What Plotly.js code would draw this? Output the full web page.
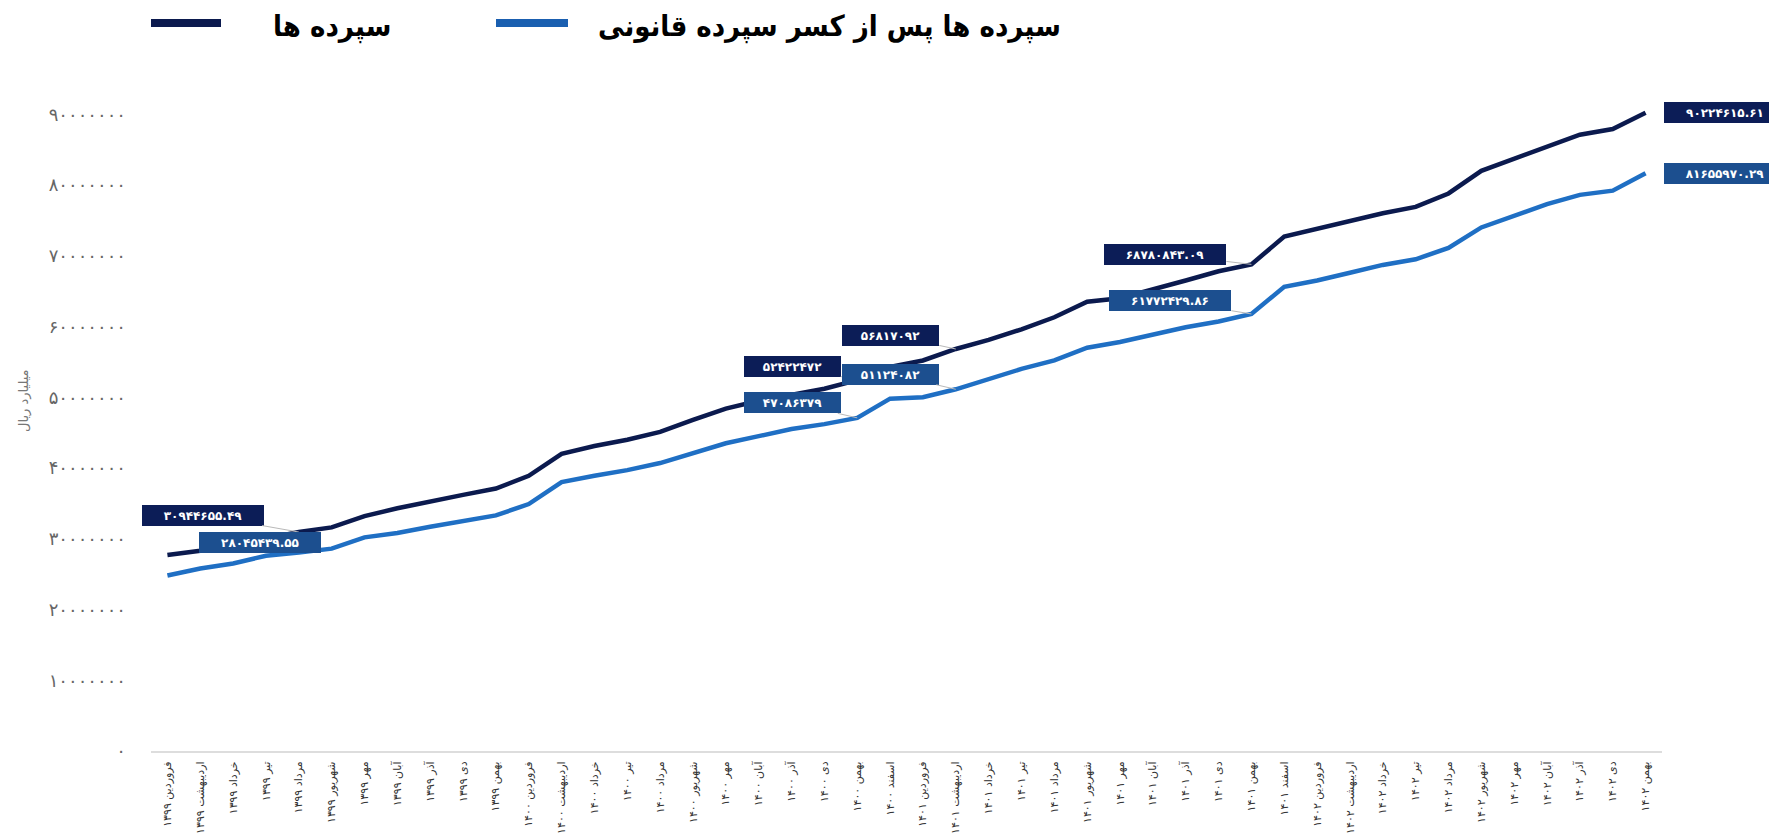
<!DOCTYPE html>
<html>
<head>
<meta charset="utf-8">
<script src="https://cdn.plot.ly/plotly-3.0.1.min.js"></script>
<style>
  html, body { margin: 0; padding: 0; background: #ffffff; }
  #chart { width: 1769px; height: 839px; }
</style>
</head>
<body>
<div id="chart"></div>
<script>
// ---------- data ----------
const months = [
  "فروردین ۱۳۹۹", "اردیبهشت ۱۳۹۹", "خرداد ۱۳۹۹", "تیر ۱۳۹۹", "مرداد ۱۳۹۹", "شهریور ۱۳۹۹",
  "مهر ۱۳۹۹", "آبان ۱۳۹۹", "آذر ۱۳۹۹", "دی ۱۳۹۹", "بهمن ۱۳۹۹",
  "فروردین ۱۴۰۰", "اردیبهشت ۱۴۰۰", "خرداد ۱۴۰۰", "تیر ۱۴۰۰", "مرداد ۱۴۰۰", "شهریور ۱۴۰۰",
  "مهر ۱۴۰۰", "آبان ۱۴۰۰", "آذر ۱۴۰۰", "دی ۱۴۰۰", "بهمن ۱۴۰۰", "اسفند ۱۴۰۰",
  "فروردین ۱۴۰۱", "اردیبهشت ۱۴۰۱", "خرداد ۱۴۰۱", "تیر ۱۴۰۱", "مرداد ۱۴۰۱", "شهریور ۱۴۰۱",
  "مهر ۱۴۰۱", "آبان ۱۴۰۱", "آذر ۱۴۰۱", "دی ۱۴۰۱", "بهمن ۱۴۰۱", "اسفند ۱۴۰۱",
  "فروردین ۱۴۰۲", "اردیبهشت ۱۴۰۲", "خرداد ۱۴۰۲", "تیر ۱۴۰۲", "مرداد ۱۴۰۲", "شهریور ۱۴۰۲",
  "مهر ۱۴۰۲", "آبان ۱۴۰۲", "آذر ۱۴۰۲", "دی ۱۴۰۲", "بهمن ۱۴۰۲"
];

const deposits = [
  27700000, 28300000, 29100000, 30000000, 30944655.49, 31600000,
  33200000, 34300000, 35300000, 36200000, 37100000,
  38900000, 42000000, 43100000, 44000000, 45100000, 46800000,
  48400000, 49500000, 50300000, 51200000, 52422472, 54300000,
  55200000, 56817092, 58100000, 59600000, 61300000, 63500000,
  64000000, 65200000, 66500000, 67800000, 68780843.09, 72700000,
  73800000, 74800000, 76000000, 76900000, 78800000, 82000000,
  83700000, 85400000, 87100000, 87900000, 90224615.61
];

const depositsNet = [
  24800000, 25800000, 26500000, 27600000, 28045439.55, 28600000,
  30200000, 30800000, 31700000, 32500000, 33300000,
  34900000, 38000000, 38900000, 39700000, 40700000, 42100000,
  43500000, 44500000, 45500000, 46200000, 47086379, 49800000,
  50000000, 51124082, 52500000, 54000000, 55200000, 57000000,
  57800000, 58900000, 59900000, 60700000, 61772429.86, 65600000,
  66500000, 67600000, 68700000, 69500000, 71100000, 74000000,
  75700000, 77300000, 78600000, 79200000, 81655970.29
];

const seriesNames = ["سپرده ها", "سپرده ها پس از کسر سپرده قانونی"];
const yTickValues = [0, 10000000, 20000000, 30000000, 40000000, 50000000, 60000000, 70000000, 80000000, 90000000];
const yTitle = "میلیارد ریال";

// labelled points: month index, and label text as printed on the chart
const depLabelIdx = [4, 21, 24, 33, 45];
const depLabelText = ["۳۰۹۴۴۶۵۵.۴۹", "۵۲۴۲۲۴۷۲", "۵۶۸۱۷۰۹۲", "۶۸۷۸۰۸۴۳.۰۹", "۹۰۲۲۴۶۱۵.۶۱"];
const netLabelIdx = [4, 21, 24, 33, 45];
const netLabelText = ["۲۸۰۴۵۴۳۹.۵۵", "۴۷۰۸۶۳۷۹", "۵۱۱۲۴۰۸۲", "۶۱۷۷۲۴۲۹.۸۶", "۸۱۶۵۵۹۷۰.۲۹"];

// ---------- styling ----------
const DARK = "#0b1a4e";
const LIGHT = "#1f6fc4";
const DARK_BOX = "#0c1d57";
const LIGHT_BOX = "#1c4f8f";

const toFa = s => String(s).replace(/\d/g, d => "۰۱۲۳۴۵۶۷۸۹"[+d]);

const traces = [
  { x: months, y: deposits, name: seriesNames[0], type: "scatter", mode: "lines",
    line: { color: DARK, width: 4.5 }, hoverinfo: "skip" },
  { x: months, y: depositsNet, name: seriesNames[1], type: "scatter", mode: "lines",
    line: { color: LIGHT, width: 4.5 }, hoverinfo: "skip" }
];

// per-label box offsets (pixels from the point to the box centre)
const depOffsets = [[-96, -17], [-65, -14], [-65, -14], [-86, -10], null];
const netOffsets = [[-39, -10], [-65, -15], [-65, -15], [-81, -13], null];

function labelAnn(series, idx, text, offs, bg) {
  const long = text.indexOf(".") >= 0;
  const base = {
    xref: "x", yref: "y", x: months[idx], y: series[idx], text: text,
    font: { family: "DejaVu Sans", size: 12, color: "#ffffff", weight: 700 },
    bgcolor: bg, borderpad: 3, borderwidth: 0,
    width: long ? 116 : 91, height: 15, align: "center", valign: "middle"
  };
  if (offs) {
    return Object.assign(base, {
      showarrow: true, arrowhead: 0, arrowwidth: 1, arrowcolor: "#b9b9b9",
      ax: offs[0], ay: offs[1], standoff: 0
    });
  }
  return Object.assign(base, { showarrow: false, xanchor: "left", yanchor: "middle", xshift: 18 });
}

const annotations = [];
depLabelIdx.forEach((idx, k) => annotations.push(labelAnn(deposits, idx, depLabelText[k], depOffsets[k], DARK_BOX)));
netLabelIdx.forEach((idx, k) => annotations.push(labelAnn(depositsNet, idx, netLabelText[k], netOffsets[k], LIGHT_BOX)));

// legend (drawn at the top like the original)
const PL = 151, PW = 1511, PB = 751, PH = 658;
const px = v => (v - PL) / PW;
const py = v => (PB - v) / PH;

annotations.push({
  xref: "paper", yref: "paper", x: px(332), y: py(27), showarrow: false,
  text: seriesNames[0], xanchor: "center", yanchor: "middle",
  font: { family: "DejaVu Sans Condensed", size: 29, color: "#000000", weight: 700 }
});
annotations.push({
  xref: "paper", yref: "paper", x: px(829), y: py(27), showarrow: false,
  text: seriesNames[1], xanchor: "center", yanchor: "middle",
  font: { family: "DejaVu Sans Condensed", size: 29, color: "#000000", weight: 700 }
});
annotations.push({
  xref: "paper", yref: "paper", x: px(24), y: py(400), showarrow: false,
  text: yTitle, textangle: -90, xanchor: "center", yanchor: "middle",
  font: { family: "DejaVu Sans", size: 13, color: "#777777" }
});

const shapes = [
  { type: "line", xref: "paper", yref: "paper", x0: px(151), x1: px(221), y0: py(23), y1: py(23),
    line: { color: DARK, width: 8 } },
  { type: "line", xref: "paper", yref: "paper", x0: px(496), x1: px(568), y0: py(23), y1: py(23),
    line: { color: "#1a5fb0", width: 8 } }
];

const layout = {
  width: 1769, height: 839,
  margin: { l: PL, r: 1769 - PL - PW, t: PB - PH, b: 839 - PB, pad: 0 },
  paper_bgcolor: "#ffffff", plot_bgcolor: "#ffffff",
  showlegend: false,
  xaxis: {
    type: "category", range: [-0.5, months.length - 0.5],
    showgrid: false, zeroline: false, showline: true, linecolor: "#dddddd", linewidth: 2,
    ticks: "", tickangle: -90, ticklabelstandoff: 4,
    tickfont: { family: "DejaVu Sans", size: 11, color: "#333333" }
  },
  yaxis: {
    range: [0, 93000000], showgrid: false, zeroline: false, showline: false,
    tickmode: "array", tickvals: yTickValues, ticktext: yTickValues.map(toFa),
    ticks: "", ticklabelstandoff: 24,
    tickfont: { family: "DejaVu Sans", size: 18, color: "#666666" }
  },
  annotations: annotations,
  shapes: shapes
};

Plotly.newPlot("chart", traces, layout, { displayModeBar: false, staticPlot: true });
</script>
</body>
</html>
